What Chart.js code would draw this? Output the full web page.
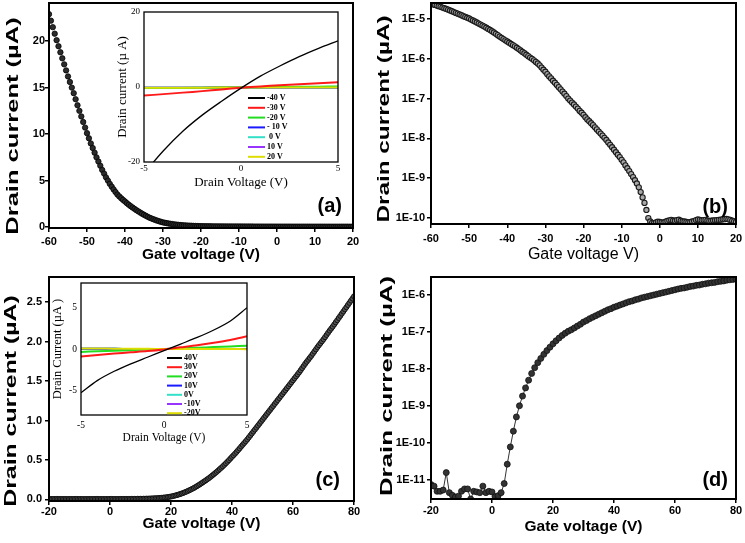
<!DOCTYPE html>
<html>
<head>
<meta charset="utf-8">
<script src="https://cdn.jsdelivr.net/npm/chart.js@4.4.0/dist/chart.umd.min.js"></script>
<style>
  body { margin: 0; background: #fff; width: 745px; height: 543px; position: relative; overflow: hidden; }
  canvas { position: absolute; }
</style>
</head>
<body>
<canvas id="pa" width="370" height="270" style="left:0;top:0"></canvas>
<canvas id="pb" width="375" height="270" style="left:370px;top:0"></canvas>
<canvas id="pc" width="370" height="273" style="left:0;top:270px"></canvas>
<canvas id="pd" width="375" height="273" style="left:370px;top:270px"></canvas>
<canvas id="ia" width="240" height="190" style="left:105px;top:5px"></canvas>
<canvas id="ic" width="210" height="180" style="left:45px;top:275px"></canvas>
<script>
// gate voltage sweeps (V): half-volt steps for (a)-(c), one-volt steps for (d)
const gateP = [
  -60,-59.5,-59,-58.5,-58,-57.5,-57,-56.5,-56,-55.5,-55,-54.5,-54,-53.5,-53,-52.5,-52,-51.5,-51,-50.5,
  -50,-49.5,-49,-48.5,-48,-47.5,-47,-46.5,-46,-45.5,-45,-44.5,-44,-43.5,-43,-42.5,-42,-41.5,-41,-40.5,
  -40,-39.5,-39,-38.5,-38,-37.5,-37,-36.5,-36,-35.5,-35,-34.5,-34,-33.5,-33,-32.5,-32,-31.5,-31,-30.5,
  -30,-29.5,-29,-28.5,-28,-27.5,-27,-26.5,-26,-25.5,-25,-24.5,-24,-23.5,-23,-22.5,-22,-21.5,-21,-20.5,
  -20,-19.5,-19,-18.5,-18,-17.5,-17,-16.5,-16,-15.5,-15,-14.5,-14,-13.5,-13,-12.5,-12,-11.5,-11,-10.5,
  -10,-9.5,-9,-8.5,-8,-7.5,-7,-6.5,-6,-5.5,-5,-4.5,-4,-3.5,-3,-2.5,-2,-1.5,-1,-0.5,
  0,0.5,1,1.5,2,2.5,3,3.5,4,4.5,5,5.5,6,6.5,7,7.5,8,8.5,9,9.5,
  10,10.5,11,11.5,12,12.5,13,13.5,14,14.5,15,15.5,16,16.5,17,17.5,18,18.5,19,19.5,20
];
const gateN = [
  -20,-19.5,-19,-18.5,-18,-17.5,-17,-16.5,-16,-15.5,-15,-14.5,-14,-13.5,-13,-12.5,-12,-11.5,-11,-10.5,
  -10,-9.5,-9,-8.5,-8,-7.5,-7,-6.5,-6,-5.5,-5,-4.5,-4,-3.5,-3,-2.5,-2,-1.5,-1,-0.5,
  0,0.5,1,1.5,2,2.5,3,3.5,4,4.5,5,5.5,6,6.5,7,7.5,8,8.5,9,9.5,
  10,10.5,11,11.5,12,12.5,13,13.5,14,14.5,15,15.5,16,16.5,17,17.5,18,18.5,19,19.5,
  20,20.5,21,21.5,22,22.5,23,23.5,24,24.5,25,25.5,26,26.5,27,27.5,28,28.5,29,29.5,
  30,30.5,31,31.5,32,32.5,33,33.5,34,34.5,35,35.5,36,36.5,37,37.5,38,38.5,39,39.5,
  40,40.5,41,41.5,42,42.5,43,43.5,44,44.5,45,45.5,46,46.5,47,47.5,48,48.5,49,49.5,
  50,50.5,51,51.5,52,52.5,53,53.5,54,54.5,55,55.5,56,56.5,57,57.5,58,58.5,59,59.5,
  60,60.5,61,61.5,62,62.5,63,63.5,64,64.5,65,65.5,66,66.5,67,67.5,68,68.5,69,69.5,
  70,70.5,71,71.5,72,72.5,73,73.5,74,74.5,75,75.5,76,76.5,77,77.5,78,78.5,79,79.5,80
];
const gateD = [
  -20,-19,-18,-17,-16,-15,-14,-13,-12,-11,-10,-9,-8,-7,-6,-5,-4,-3,-2,-1,
  0,1,2,3,4,5,6,7,8,9,10,11,12,13,14,15,16,17,18,19,
  20,21,22,23,24,25,26,27,28,29,30,31,32,33,34,35,36,37,38,39,
  40,41,42,43,44,45,46,47,48,49,50,51,52,53,54,55,56,57,58,59,
  60,61,62,63,64,65,66,67,68,69,70,71,72,73,74,75,76,77,78,79,80
];

// (a) p-type transfer, linear (µA)
const currentA = [
  22.9, 22.2, 21.5, 20.8, 20.1, 19.45, 18.8, 18.15, 17.5, 16.85,
  16.2, 15.6, 15.0, 14.4, 13.75, 13.1, 12.5, 11.9, 11.3, 10.7,
  10.1, 9.55, 9.0, 8.5, 8.0, 7.5, 7.05, 6.6, 6.15, 5.75,
  5.35, 5.0, 4.65, 4.35, 4.05, 3.77, 3.5, 3.3, 3.1, 2.92,
  2.75, 2.57, 2.4, 2.25, 2.1, 1.96, 1.82, 1.69, 1.56, 1.44,
  1.32, 1.21, 1.1, 1.0, 0.92, 0.84, 0.76, 0.69, 0.62, 0.56,
  0.5, 0.46, 0.42, 0.38, 0.35, 0.32, 0.29, 0.265, 0.24, 0.22,
  0.2, 0.185, 0.17, 0.16, 0.15, 0.14, 0.13, 0.12, 0.11, 0.105,
  0.1, 0.095, 0.09, 0.088, 0.085, 0.083, 0.08, 0.078, 0.075, 0.073,
  0.07, 0.069, 0.068, 0.066, 0.065, 0.064, 0.062, 0.061, 0.06, 0.059,
  0.058, 0.057, 0.056, 0.056, 0.055, 0.055, 0.054, 0.054, 0.053, 0.053,
  0.052, 0.052, 0.051, 0.051, 0.05, 0.05, 0.05, 0.05, 0.049, 0.049,
  0.048, 0.048, 0.048, 0.048, 0.047, 0.047, 0.047, 0.047, 0.046, 0.046,
  0.046, 0.046, 0.045, 0.045, 0.045, 0.045, 0.045, 0.045, 0.044, 0.044,
  0.044, 0.044, 0.044, 0.044, 0.043, 0.043, 0.043, 0.043, 0.043, 0.043,
  0.042, 0.042, 0.042, 0.042, 0.042, 0.042, 0.042, 0.042, 0.041, 0.041, 0.041
];
// (b) p-type transfer, log
const currentB = [
  2.40e-5, 2.32e-5, 2.24e-5, 2.16e-5, 2.08e-5, 2.0e-5, 1.92e-5, 1.85e-5, 1.78e-5, 1.70e-5,
  1.62e-5, 1.55e-5, 1.48e-5, 1.41e-5, 1.35e-5, 1.29e-5, 1.23e-5, 1.17e-5, 1.12e-5, 1.07e-5,
  1.02e-5, 9.6e-6, 9.1e-6, 8.6e-6, 8.1e-6, 7.6e-6, 7.2e-6, 6.8e-6, 6.4e-6, 6.0e-6,
  5.6e-6, 5.25e-6, 4.9e-6, 4.55e-6, 4.2e-6, 3.9e-6, 3.6e-6, 3.35e-6, 3.1e-6, 2.9e-6,
  2.7e-6, 2.52e-6, 2.34e-6, 2.19e-6, 2.04e-6, 1.89e-6, 1.74e-6, 1.61e-6, 1.48e-6, 1.37e-6,
  1.26e-6, 1.16e-6, 1.07e-6, 9.9e-7, 9.1e-7, 8.3e-7, 7.6e-7, 6.8e-7, 6.0e-7, 5.3e-7,
  4.7e-7, 4.1e-7, 3.6e-7, 3.2e-7, 2.8e-7, 2.5e-7, 2.2e-7, 1.93e-7, 1.7e-7, 1.5e-7,
  1.32e-7, 1.15e-7, 1.0e-7, 8.9e-8, 7.9e-8, 7.1e-8, 6.3e-8, 5.6e-8, 4.9e-8, 4.4e-8,
  3.9e-8, 3.4e-8, 3.0e-8, 2.7e-8, 2.4e-8, 2.15e-8, 1.9e-8, 1.68e-8, 1.48e-8, 1.32e-8,
  1.17e-8, 1.03e-8, 9.1e-9, 7.9e-9, 6.9e-9, 6.0e-9, 5.2e-9, 4.5e-9, 3.9e-9, 3.4e-9,
  2.9e-9, 2.5e-9, 2.1e-9, 1.78e-9, 1.51e-9, 1.27e-9, 1.07e-9, 8.9e-10, 7.4e-10, 5.9e-10,
  4.5e-10, 3.3e-10, 2.4e-10, 1.6e-10, 1.0e-10, 8.2e-11, 7.6e-11, 7.5e-11, 7.8e-11, 8.1e-11,
  8.0e-11, 7.8e-11, 7.7e-11, 8.1e-11, 8.5e-11, 8.8e-11, 9.0e-11, 8.7e-11, 8.6e-11, 8.9e-11,
  9.1e-11, 8.6e-11, 8.3e-11, 8.2e-11, 8.0e-11, 7.8e-11, 7.9e-11, 8.2e-11, 8.4e-11, 8.9e-11,
  9.2e-11, 9.0e-11, 8.8e-11, 8.9e-11, 9.0e-11, 8.7e-11, 8.5e-11, 8.6e-11, 8.7e-11, 8.8e-11,
  8.9e-11, 9.0e-11, 9.1e-11, 9.3e-11, 9.4e-11, 9.5e-11, 9.3e-11, 9.0e-11, 8.6e-11, 8.3e-11, 8.0e-11
];
// (c) n-type transfer, linear (µA)
const currentC = [
  0.006, 0.005, 0.005, 0.005, 0.005, 0.006, 0.006, 0.005, 0.005, 0.005,
  0.005, 0.005, 0.004, 0.005, 0.005, 0.005, 0.005, 0.006, 0.006, 0.005,
  0.005, 0.005, 0.005, 0.004, 0.004, 0.005, 0.005, 0.005, 0.005, 0.005,
  0.005, 0.006, 0.006, 0.005, 0.005, 0.005, 0.005, 0.005, 0.005, 0.005,
  0.006, 0.006, 0.005, 0.005, 0.005, 0.005, 0.005, 0.006, 0.006, 0.006,
  0.006, 0.006, 0.006, 0.006, 0.007, 0.007, 0.007, 0.007, 0.008, 0.008,
  0.008, 0.008, 0.009, 0.009, 0.01, 0.01, 0.011, 0.012, 0.013, 0.014,
  0.015, 0.016, 0.018, 0.019, 0.021, 0.023, 0.025, 0.027, 0.03, 0.033,
  0.037, 0.041, 0.046, 0.051, 0.056, 0.062, 0.068, 0.075, 0.082, 0.09,
  0.098, 0.107, 0.116, 0.125, 0.135, 0.145, 0.156, 0.168, 0.18, 0.192,
  0.205, 0.218, 0.231, 0.244, 0.258, 0.272, 0.287, 0.302, 0.318, 0.334,
  0.35, 0.367, 0.385, 0.402, 0.42, 0.439, 0.458, 0.478, 0.498, 0.519,
  0.54, 0.56, 0.58, 0.602, 0.625, 0.647, 0.67, 0.692, 0.715, 0.737,
  0.76, 0.785, 0.81, 0.835, 0.86, 0.885, 0.91, 0.935, 0.96, 0.985,
  1.01, 1.035, 1.06, 1.085, 1.11, 1.135, 1.16, 1.185, 1.21, 1.235,
  1.26, 1.285, 1.31, 1.335, 1.36, 1.385, 1.41, 1.435, 1.46, 1.485,
  1.51, 1.535, 1.56, 1.585, 1.61, 1.637, 1.665, 1.692, 1.72, 1.745,
  1.77, 1.795, 1.82, 1.847, 1.875, 1.902, 1.93, 1.955, 1.98, 2.005,
  2.03, 2.057, 2.085, 2.112, 2.14, 2.165, 2.19, 2.217, 2.245, 2.272,
  2.3, 2.327, 2.355, 2.382, 2.41, 2.437, 2.465, 2.492, 2.52, 2.547, 2.575
];
// (d) n-type transfer, log
const currentD = [
  7.6e-12, 6.9e-12, 5.0e-12, 5.0e-12, 5.4e-12, 1.6e-11, 4.6e-12, 3.9e-12, 3.5e-12, 3.7e-12,
  5.0e-12, 5.8e-12, 5.8e-12, 3.1e-12, 5.0e-12, 4.8e-12, 4.6e-12, 6.9e-12, 4.6e-12, 5.0e-12,
  4.8e-12, 3.6e-12, 3.8e-12, 4.6e-12, 8.1e-12, 2.7e-11, 7.9e-11, 2.1e-10, 5.1e-10, 1.02e-9,
  1.86e-9, 3.1e-9, 5.0e-9, 7.6e-9, 1.09e-8, 1.49e-8, 1.94e-8, 2.5e-8, 3.15e-8, 3.9e-8,
  4.8e-8, 5.8e-8, 6.9e-8, 8.1e-8, 9.3e-8, 1.05e-7, 1.15e-7, 1.29e-7, 1.45e-7, 1.62e-7,
  1.86e-7, 2.04e-7, 2.29e-7, 2.51e-7, 2.75e-7, 3.02e-7, 3.31e-7, 3.63e-7, 3.98e-7, 4.27e-7,
  4.68e-7, 5.0e-7, 5.37e-7, 5.75e-7, 6.17e-7, 6.61e-7, 6.92e-7, 7.41e-7, 7.76e-7, 8.32e-7,
  8.71e-7, 9.12e-7, 9.55e-7, 1.0e-6, 1.05e-6, 1.10e-6, 1.15e-6, 1.20e-6, 1.26e-6, 1.32e-6,
  1.38e-6, 1.45e-6, 1.51e-6, 1.55e-6, 1.62e-6, 1.70e-6, 1.74e-6, 1.82e-6, 1.86e-6, 1.95e-6,
  2.0e-6, 2.09e-6, 2.14e-6, 2.19e-6, 2.29e-6, 2.34e-6, 2.40e-6, 2.51e-6, 2.57e-6, 2.63e-6, 2.69e-6
];

// output curves for the insets
const drainV = [-5, -4, -3, -2, -1, 0, 1, 2, 3, 4, 5];
const insetALabels = ['-40 V', '-30 V', '-20 V', '- 10 V', ' 0 V', '10 V', '20 V'];
const insetASeries = [
  [-23, -17, -11.8, -7.5, -3.8, -0.3, 2.9, 5.6, 8.1, 10.3, 12.3],
  [-2.3, -1.9, -1.5, -1.1, -0.65, -0.2, 0.15, 0.45, 0.75, 1.0, 1.3],
  [-0.3, -0.27, -0.24, -0.2, -0.15, -0.1, -0.05, 0, 0.05, 0.1, 0.15],
  [-0.2, -0.19, -0.18, -0.17, -0.16, -0.15, -0.14, -0.13, -0.12, -0.11, -0.1],
  [-0.2, -0.19, -0.18, -0.17, -0.16, -0.15, -0.14, -0.13, -0.12, -0.11, -0.1],
  [-0.2, -0.19, -0.18, -0.17, -0.16, -0.15, -0.14, -0.13, -0.12, -0.11, -0.1],
  [-0.18, -0.18, -0.17, -0.17, -0.16, -0.16, -0.15, -0.15, -0.14, -0.14, -0.13]
];
const insetCLabels = ['40V', '30V', '20V', '10V', '0V', '-10V', '-20V'];
const insetCSeries = [
  [-5.3, -3.8, -2.7, -1.8, -1.0, -0.2, 0.6, 1.4, 2.3, 3.4, 5.0],
  [-0.9, -0.72, -0.55, -0.4, -0.25, -0.05, 0.2, 0.45, 0.75, 1.1, 1.55],
  [-0.35, -0.28, -0.21, -0.14, -0.07, 0, 0.07, 0.15, 0.23, 0.31, 0.4],
  [0.02, 0.02, 0.02, 0.01, 0.01, 0, 0, 0, -0.01, -0.01, -0.01],
  [0.02, 0.02, 0.02, 0.01, 0.01, 0, 0, 0, -0.01, -0.01, -0.01],
  [0.02, 0.02, 0.02, 0.01, 0.01, 0, 0, 0, -0.01, -0.01, -0.01],
  [0.05, 0.05, 0.04, 0.03, 0.02, 0.01, 0, 0, -0.01, -0.01, -0.02]
];
const insetColors = ['#000000', '#ff1a1a', '#22dd22', '#1a1aff', '#33e0c8', '#9933ff', '#dddd00'];
const insetOrder = [0, 1, 3, 4, 5, 6, 2];

// tick values and labels
const ticksGateP = [-60, -50, -40, -30, -20, -10, 0, 10, 20];
const ticksGateN = [-20, 0, 20, 40, 60, 80];
const ticksA = [0, 5, 10, 15, 20];
const ticksB = [1e-10, 1e-9, 1e-8, 1e-7, 1e-6, 1e-5];
const labelsB = ['1E-10', '1E-9', '1E-8', '1E-7', '1E-6', '1E-5'];
const ticksC = [0, 0.5, 1.0, 1.5, 2.0, 2.5];
const labelsC = ['0.0', '0.5', '1.0', '1.5', '2.0', '2.5'];
const ticksD = [1e-11, 1e-10, 1e-9, 1e-8, 1e-7, 1e-6];
const labelsD = ['1E-11', '1E-10', '1E-9', '1E-8', '1E-7', '1E-6'];
const ticksInsetA = [-20, 0, 20];
const ticksInsetC = [-5, 0, 5];
const ticksDrain = [-5, 0, 5];

const SANS = 'Liberation Sans, Arial, sans-serif';
const SERIF = 'Liberation Serif, Times New Roman, serif';
Chart.defaults.font.family = SANS;
Chart.defaults.color = '#000';

// frame, stretched y title, panel tag and inset legend
const extras = {
  id: 'extras',
  afterDraw(chart, args, o) {
    const ctx = chart.ctx, a = chart.chartArea;
    ctx.save();
    ctx.strokeStyle = '#000';
    ctx.lineWidth = o.frame;
    ctx.strokeRect(a.left, a.top, a.right - a.left, a.bottom - a.top);
    ctx.fillStyle = '#000';
    if (o.yTitle) {
      const t = o.yTitle;
      ctx.save();
      ctx.translate(t.x, t.y);
      ctx.rotate(-Math.PI / 2);
      ctx.scale(t.stretch, 1);
      ctx.font = 'bold 17px ' + SANS;
      ctx.textAlign = 'center';
      ctx.textBaseline = 'middle';
      ctx.fillText(t.text, 0, 0);
      ctx.restore();
    }
    if (o.tag) {
      ctx.font = 'bold 20px ' + SANS;
      ctx.textAlign = 'right';
      ctx.textBaseline = 'middle';
      ctx.fillText(o.tag.text, a.right - o.tag.dx, a.bottom - o.tag.dy);
    }
    if (o.legend) {
      const L = o.legend;
      ctx.font = 'bold 8px ' + SERIF;
      ctx.textAlign = 'left';
      ctx.textBaseline = 'middle';
      L.labels.forEach((lab, i) => {
        const y = L.y + i * L.step;
        ctx.strokeStyle = chart.data.datasets[i].borderColor;
        ctx.lineWidth = 2;
        ctx.beginPath();
        ctx.moveTo(L.x, y);
        ctx.lineTo(L.x + L.len, y);
        ctx.stroke();
        ctx.fillText(lab, L.x + L.len + 2, y);
      });
    }
    ctx.restore();
  }
};

function axis(o) {
  return {
    type: o.type || 'linear',
    min: o.min,
    max: o.max,
    afterBuildTicks: s => { s.ticks = o.ticks.map(v => ({ value: v })); },
    afterFit: s => {
      if (s.isHorizontal()) s.height = o.size; else s.width = o.size;
      s.paddingTop = s.paddingBottom = s.paddingLeft = s.paddingRight = 0;
    },
    ticks: {
      color: '#000', font: o.font, padding: o.pad, autoSkip: false, maxRotation: 0,
      callback: (v, i) => o.labels ? o.labels[i] : String(o.ticks[i])
    },
    grid: { drawOnChartArea: false, drawTicks: !!o.tick, tickLength: o.tick || 0, color: '#000', lineWidth: 1.5 },
    border: { display: false },
    title: o.title ? { display: true, text: o.title, color: '#000', font: o.titleFont, padding: o.titlePad } : { display: false }
  };
}

const tickFont = { size: 11, weight: 'bold', family: SANS };
const gateFont = { size: 15.5, weight: 'bold', family: SANS };

function transfer(id, p) {
  return new Chart(document.getElementById(id), {
    type: 'scatter',
    data: {
      datasets: [{
        data: p.x.map((v, i) => ({ x: v, y: p.y[i] })),
        showLine: p.line,
        borderColor: '#333',
        borderWidth: 1,
        pointRadius: p.r,
        pointBackgroundColor: p.fill,
        pointBorderColor: p.edge,
        pointBorderWidth: p.ew
      }]
    },
    options: {
      responsive: false,
      animation: false,
      layout: { autoPadding: false, padding: p.pad },
      plugins: {
        legend: { display: false },
        tooltip: { enabled: false },
        extras: { frame: 2, yTitle: p.yTitle, tag: p.tag }
      },
      scales: { x: p.xAxis, y: p.yAxis }
    },
    plugins: [extras]
  });
}

transfer('pa', {
  x: gateP, y: currentA, line: false, r: 2.7, fill: '#2c2c2c', edge: '#000', ew: 0.8,
  pad: { left: 0, top: 3, right: 17, bottom: 0 },
  xAxis: axis({ min: -60, max: 20, ticks: ticksGateP, size: 42, tick: 4, pad: 3.5, font: tickFont,
    title: 'Gate voltage (V)', titleFont: gateFont, titlePad: { top: 0, bottom: 5.7 } }),
  yAxis: axis({ min: -0.1, max: 24.1, ticks: ticksA, size: 49, tick: 4, pad: 0, font: tickFont }),
  yTitle: { text: 'Drain current (µA)', x: 13.5, y: 126, stretch: 1.5 },
  tag: { text: '(a)', dx: 11, dy: 22 }
});

transfer('pb', {
  x: gateP, y: currentB, line: false, r: 2.6, fill: '#a8a8a8', edge: '#1a1a1a', ew: 1.1,
  pad: { left: 0, top: 3, right: 9, bottom: 0 },
  xAxis: axis({ min: -60, max: 20, ticks: ticksGateP, size: 46, tick: 4, pad: 4.5, font: tickFont,
    title: 'Gate voltage V)', titleFont: { size: 16, weight: 'normal', family: SANS }, titlePad: { top: 0, bottom: 5.4 } }),
  yAxis: axis({ type: 'logarithmic', min: 7.1e-11, max: 2.5e-5, ticks: ticksB, labels: labelsB, size: 61, tick: 4, pad: 2, font: tickFont }),
  yTitle: { text: 'Drain current (µA)', x: 14, y: 119, stretch: 1.43 },
  tag: { text: '(b)', dx: 8, dy: 17 }
});

transfer('pc', {
  x: gateN, y: currentC, line: false, r: 2.5, fill: '#555', edge: '#111', ew: 1,
  pad: { left: 0, top: 7, right: 16, bottom: 0 },
  xAxis: axis({ min: -20, max: 80, ticks: ticksGateN, size: 42, tick: 4, pad: 0.5, font: tickFont,
    title: 'Gate voltage (V)', titleFont: gateFont, titlePad: { top: 0, bottom: 9.7 } }),
  yAxis: axis({ min: -0.02, max: 2.82, ticks: ticksC, labels: labelsC, size: 49, tick: 4, pad: 3, font: tickFont }),
  yTitle: { text: 'Drain current (µA)', x: 11.5, y: 131, stretch: 1.46 },
  tag: { text: '(c)', dx: 14, dy: 21 }
});

transfer('pd', {
  x: gateD, y: currentD, line: true, r: 3, fill: '#333', edge: '#111', ew: 0.8,
  pad: { left: 0, top: 7, right: 9, bottom: 0 },
  xAxis: axis({ min: -20, max: 80, ticks: ticksGateN, size: 44, tick: 4, pad: 1.5, font: tickFont,
    title: 'Gate voltage (V)', titleFont: gateFont, titlePad: { top: 0, bottom: 6.7 } }),
  yAxis: axis({ type: 'logarithmic', min: 3.1e-12, max: 3.06e-6, ticks: ticksD, labels: labelsD, size: 61, tick: 4, pad: 2, font: tickFont }),
  yTitle: { text: 'Drain current (µA)', x: 17, y: 116, stretch: 1.52 },
  tag: { text: '(d)', dx: 8, dy: 19 }
});

function inset(id, p) {
  return new Chart(document.getElementById(id), {
    type: 'scatter',
    data: {
      datasets: p.series.map((s, k) => ({
        data: drainV.map((v, i) => ({ x: v, y: s[i] })),
        showLine: true,
        borderColor: insetColors[k],
        borderWidth: k === 0 ? 1.3 : 2,
        pointRadius: 0,
        tension: 0.3,
        order: insetOrder[k]
      }))
    },
    options: {
      responsive: false,
      animation: false,
      layout: { autoPadding: false, padding: p.pad },
      plugins: {
        legend: { display: false },
        tooltip: { enabled: false },
        extras: { frame: 1.3, legend: p.legend }
      },
      scales: {
        x: axis({ min: -5, max: 5, ticks: ticksDrain, size: p.xSize, pad: p.xPad, font: { size: p.tickSize, family: SERIF },
          title: 'Drain Voltage (V)', titleFont: { size: p.xTitleSize, family: SERIF }, titlePad: { top: 0, bottom: p.xTitlePad } }),
        y: axis({ min: p.ymin, max: p.ymax, ticks: p.yTicks, size: p.ySize, pad: 4, font: { size: p.tickSize, family: SERIF },
          title: p.yTitle, titleFont: { size: p.yTitleSize, family: SERIF }, titlePad: { top: p.yTitlePad, bottom: 0 } })
      }
    },
    plugins: [extras]
  });
}

inset('ia', {
  series: insetASeries, ymin: -20, ymax: 20, yTicks: ticksInsetA, tickSize: 9,
  pad: { left: 0, top: 7, right: 7, bottom: 0 }, xSize: 33, ySize: 39, xPad: 1,
  xTitleSize: 13, xTitlePad: 4.2, yTitle: 'Drain current (µ A)', yTitleSize: 13, yTitlePad: 10.2,
  legend: { labels: insetALabels, x: 143, y: 93, step: 9.8, len: 17 }
});

inset('ic', {
  series: insetCSeries, ymin: -8, ymax: 8, yTicks: ticksInsetC, tickSize: 9.5,
  pad: { left: 0, top: 8, right: 8, bottom: 0 }, xSize: 40, ySize: 36, xPad: 5,
  xTitleSize: 11.5, xTitlePad: 10.1, yTitle: 'Drain Current (µA )', yTitleSize: 12.5, yTitlePad: 5.5,
  legend: { labels: insetCLabels, x: 122, y: 83, step: 9.2, len: 15 }
});
</script>
</body>
</html>
